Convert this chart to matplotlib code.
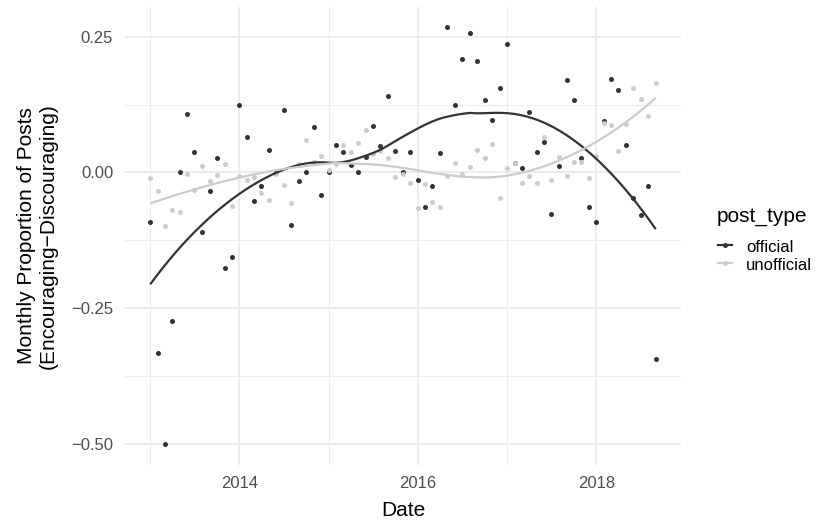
import numpy as np
import pandas as pd
import matplotlib
matplotlib.use("Agg")
import matplotlib.pyplot as plt
import matplotlib.dates as mdates
from matplotlib.lines import Line2D

plt.rcParams['font.family'] = ['Liberation Sans', 'DejaVu Sans']

# ---- data (monthly, Jan 2013 .. Sep 2018) ----
start_month = "2013-01-01"
n_months = 69
series_names = ["official", "unofficial"]
official = [-0.091, -0.333, -0.500, -0.273, 0.000, 0.107, 0.038, -0.109, -0.035, 0.026,
            -0.176, -0.156, 0.125, 0.065, -0.052, -0.025, 0.042, 0.000, 0.115, -0.097,
            -0.015, 0.000, 0.084, -0.041, 0.001, 0.051, 0.038, 0.014, 0.000, 0.029,
            0.086, 0.048, 0.141, 0.039, 0.000, 0.038, -0.014, -0.064, -0.025, 0.036,
            0.267, 0.125, 0.208, 0.256, 0.205, 0.134, 0.097, 0.155, 0.237, 0.017,
            0.008, 0.112, 0.037, 0.056, -0.076, 0.011, 0.170, 0.134, 0.027, -0.064,
            -0.092, 0.094, 0.172, 0.151, 0.050, -0.047, -0.079, -0.025, -0.343]
unofficial = [-0.0095, -0.034, -0.0985, -0.069, -0.072, -0.003, -0.032, 0.011, -0.015, -0.005,
              0.016, -0.062, -0.006, -0.013, -0.009, -0.037, -0.051, -0.002, -0.024, -0.057,
              0.016, 0.059, 0.020, 0.031, 0.004, 0.016, 0.051, 0.037, 0.054, 0.078,
              0.034, 0.040, 0.026, -0.008, -0.002, -0.019, -0.065, -0.022, -0.055, -0.064,
              -0.007, 0.017, -0.002, 0.010, 0.041, 0.027, 0.052, -0.047, 0.008, 0.018,
              -0.020, -0.006, -0.020, 0.065, -0.013, 0.028, -0.007, 0.019, 0.019, -0.010,
              0.030, 0.091, 0.087, 0.040, 0.089, 0.156, 0.135, 0.103, 0.165]
colors = {"official": "#333333", "unofficial": "#CCCCCC"}
y_ticks = [-0.50, -0.25, 0.00, 0.25]
y_tick_labels = ["\u22120.50", "\u22120.25", "0.00", "0.25"]
x_tick_years = [2014, 2016, 2018]
x_minor_years = [2013, 2015, 2017]

dates = pd.date_range(start_month, periods=n_months, freq="MS")
xnum = mdates.date2num(dates.to_pydatetime())


def loess(x, y, xnew, span=0.75):
    x = np.asarray(x, float); y = np.asarray(y, float)
    n = len(x)
    q = int(np.floor(n * span))
    out = []
    for x0 in xnew:
        d = np.abs(x - x0)
        h = np.sort(d)[q - 1]
        u = np.clip(d / h, 0, 1)
        w = (1 - u ** 3) ** 3
        X = np.vstack([np.ones(n), x - x0, (x - x0) ** 2]).T
        W = np.sqrt(w)
        beta, *_ = np.linalg.lstsq(X * W[:, None], y * W, rcond=None)
        out.append(beta[0])
    return np.array(out)


W_PX, H_PX = 822, 521
fig = plt.figure(figsize=(W_PX / 100, H_PX / 100), dpi=100)
ax = fig.add_axes([125 / W_PX, 1 - 465 / H_PX, (681 - 125) / W_PX, (465 - 6.5) / H_PX])

data = {"official": official, "unofficial": unofficial}
for name in series_names:
    ax.scatter(xnum, data[name], s=13, color=colors[name], zorder=3, linewidths=0)

xs = np.linspace(xnum.min(), xnum.max(), 80)
for name in series_names:
    ax.plot(xs, loess(xnum, data[name], xs), color=colors[name], lw=1.6, zorder=4,
            solid_capstyle='butt')

# limits with ggplot-style 5% expansion
xr = xnum.max() - xnum.min()
ax.set_xlim(xnum.min() - 0.05 * xr, xnum.max() + 0.05 * xr)
allv = np.array(official + unofficial)
yr = allv.max() - allv.min()
ax.set_ylim(allv.min() - 0.05 * yr, allv.max() + 0.05 * yr)

major_x = [mdates.date2num(pd.Timestamp(f"{y}-01-01").to_pydatetime()) for y in x_tick_years]
minor_x = [mdates.date2num(pd.Timestamp(f"{y}-01-01").to_pydatetime()) for y in x_minor_years]
ax.set_xticks(major_x)
ax.set_xticklabels([str(y) for y in x_tick_years])
ax.set_xticks(minor_x, minor=True)
ax.set_yticks(y_ticks)
ax.set_yticklabels(y_tick_labels)
ax.set_yticks([-0.375, -0.125, 0.125], minor=True)

ax.grid(which='major', color='#EBEBEB', lw=1.3)
ax.grid(which='minor', color='#EBEBEB', lw=0.65)
ax.set_axisbelow(True)
for s in ax.spines.values():
    s.set_visible(False)
ax.tick_params(which='both', length=0)
ax.tick_params(axis='both', labelsize=12, colors='#4D4D4D')
ax.tick_params(axis='x', pad=8)
ax.tick_params(axis='y', pad=8.5)

# axis titles
fig.text(403 / W_PX, 1 - 516 / H_PX, "Date", fontsize=15, ha='center', va='baseline')
fig.text(37.5 / W_PX, 1 - 235.75 / H_PX,
         "Monthly Proportion of Posts\n(Encouraging\u2212Discouraging)",
         fontsize=15, rotation=90, ha='center', va='center', multialignment='center',
         linespacing=1.15)

# legend
fig.text(717 / W_PX, 1 - 221.7 / H_PX, "post_type", fontsize=15, ha='left', va='baseline')
key_y = {"official": 245, "unofficial": 263}
for name in series_names:
    yk = 1 - key_y[name] / H_PX
    fig.add_artist(Line2D([718 / W_PX, 732 / W_PX], [yk, yk], transform=fig.transFigure,
                          color=colors[name], lw=1.6))
    fig.add_artist(Line2D([725 / W_PX], [yk], transform=fig.transFigure, color=colors[name],
                          marker='o', markersize=3.6, markeredgewidth=0, lw=0))
    fig.text(746 / W_PX, 1 - (key_y[name] + 6.5) / H_PX, name, fontsize=12,
             ha='left', va='baseline')

fig.savefig("out.png", dpi=100)
